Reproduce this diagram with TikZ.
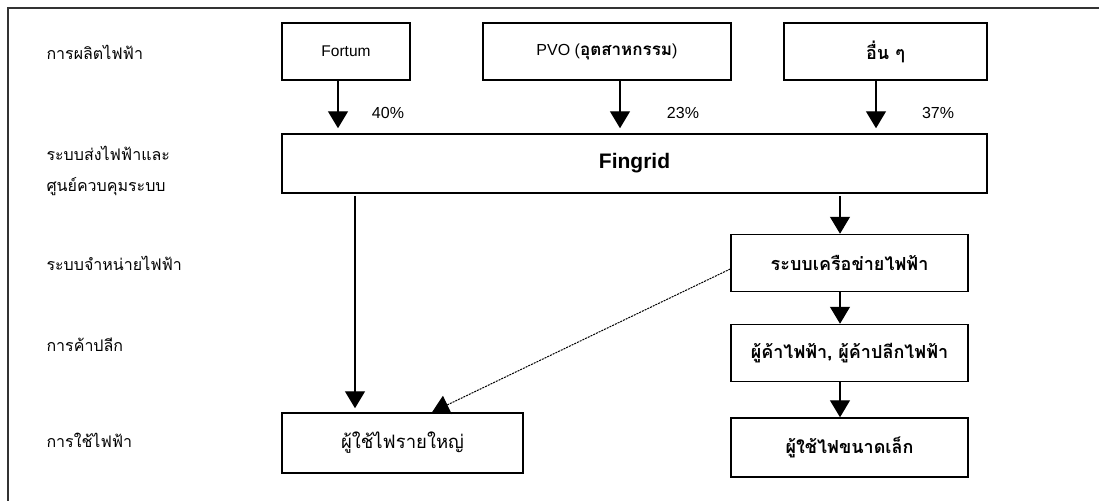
\documentclass[tikz,border=0pt]{standalone}
\usepackage{fontspec}
\setmainfont{Liberation Sans}
\newfontfamily\thaifont[Script=Thai]{Loma}
\usetikzlibrary{arrows.meta}

\tikzset{
    box/.style={draw, line width=1.5pt, inner sep=0pt, minimum height=57pt},
    flow/.style={line width=1.4pt, -{Triangle[width=20pt,length=17pt]}},
    side/.style={anchor=west, font=\thaifont\fontsize{16}{31}\selectfont, align=left},
    thaibox/.style={font=\thaifont\bfseries\fontsize{18}{20}\selectfont}
}

\begin{document}
\begin{tikzpicture}[x=1pt, y=-1pt]
    \useasboundingbox (0,0) rectangle (1099,501);
    % frame
    \draw [black!80, line width=2.5pt] (1099,8) -- (8,8) -- (8,501);

    % Left column of stages
    \node [side] (gen) at (43,52) {การผลิตไฟฟ้า};
    \node [side] (trans) at (43,171) {ระบบส่งไฟฟ้าและ\\ศูนย์ควบคุมระบบ};
    \node [side] (dist) at (43,263) {ระบบจำหน่ายไฟฟ้า};
    \node [side] (retail) at (43,345) {การค้าปลีก};
    \node [side] (use) at (43,440) {การใช้ไฟฟ้า};

    % Producers
    \node [box, minimum width=128pt, font=\fontsize{15.5}{17}\selectfont] (fortum) at (346,51.5) {Fortum};
    \node [box, minimum width=248pt, font=\fontsize{16}{18}\selectfont] (pvo) at (607,51.5) {PVO ({\thaifont\bfseries\fontsize{17}{19}\selectfont อุตสาหกรรม})};
    \node [box, minimum width=203pt, thaibox] (other) at (885.5,51.5) {อื่น ๆ};

    % Grid
    \node [box, minimum width=705pt, minimum height=59pt, font=\bfseries\fontsize{21}{23}\selectfont] (fingrid) at (634.5,163.5) {Fingrid};

    % Right column
    \node [box, minimum width=237pt, thaibox] (network) at (849.5,263) {ระบบเครือข่ายไฟฟ้า};
    \node [box, minimum width=237pt, thaibox] (seller) at (849.5,353) {ผู้ค้าไฟฟ้า, ผู้ค้าปลีกไฟฟ้า};
    \node [box, minimum width=237pt, minimum height=59pt, thaibox] (small) at (849.5,447.5) {ผู้ใช้ไฟขนาดเล็ก};

    % Large users
    \node [box, minimum width=241pt, minimum height=60pt, font=\thaifont\fontsize{18.5}{20}\selectfont] (large) at (402.5,443) {ผู้ใช้ไฟรายใหญ่};

    % Shares
    \draw [flow, shorten >=5pt] ([xshift=-8pt]fortum.south) -- ([xshift=-8pt]fortum.south |- fingrid.north);
    \draw [flow, shorten >=5pt] ([xshift=13pt]pvo.south) -- ([xshift=13pt]pvo.south |- fingrid.north);
    \draw [flow, shorten >=5pt] ([xshift=-9.5pt]other.south) -- ([xshift=-9.5pt]other.south |- fingrid.north);
    \node [font=\fontsize{16}{18}\selectfont] (s40) at (388,113) {40\%};
    \node [font=\fontsize{16}{18}\selectfont] (s23) at (683,113) {23\%};
    \node [font=\fontsize{16}{18}\selectfont] (s37) at (938,113) {37\%};

    % Delivery
    \draw [flow, shorten <=2pt, shorten >=4pt] ([xshift=-279.5pt]fingrid.south) -- ([xshift=-47.5pt]large.north);
    \draw [flow, shorten <=2pt] ([xshift=-9.5pt]network.north |- fingrid.south) -- ([xshift=-9.5pt]network.north);
    \draw [flow] ([xshift=-9.5pt]network.south) -- ([xshift=-9.5pt]seller.north);
    \draw [flow] ([xshift=-9.5pt]seller.south) -- ([xshift=-9.5pt]small.north);
    \draw [line width=1pt, dash pattern=on 2pt off 1pt, -{Triangle[width=20pt,length=17pt]}] ([yshift=-6pt]network.west) -- ([xshift=29.5pt]large.north);
\end{tikzpicture}
\end{document}
